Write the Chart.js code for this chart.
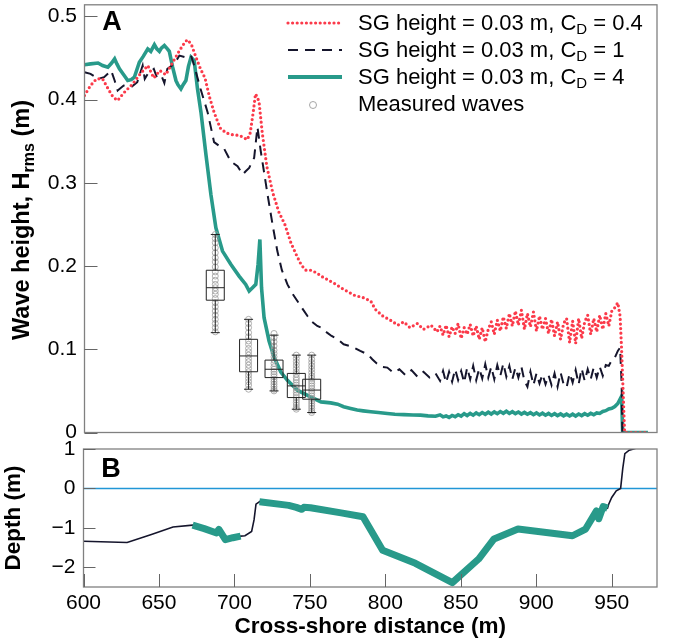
<!DOCTYPE html>
<html><head><meta charset="utf-8">
<script src="https://cdn.jsdelivr.net/npm/chart.js@4.4.1/dist/chart.umd.min.js"></script>
<style>
html,body{margin:0;padding:0;background:#fff;}
#wrap{position:relative;width:685px;height:641px;background:#fff;}
canvas{position:absolute;left:0;}
#cA{top:0;} #cB{top:440px;}
</style></head><body>
<div id="wrap"><canvas id="cA" width="685" height="445"></canvas><canvas id="cB" width="685" height="201"></canvas></div>
<script>
// ---------- DATA ----------
const xTicks = [600,650,700,750,800,850,900,950];
const yTicksA = [0,0.1,0.2,0.3,0.4,0.5];
const yTicksB = [-2,-1,0,1];

const noiseX = [836,838,840,842,844,846,848,850,852,854,856,858,860,862,864,866,868,870,872,874,876,878,880,882,884,886,888,890,892,894,896,898,900,902,904,906,908,910,912,914,916,918,920,922,924,926,928,930,932,934,936,938,940,942,944,946,948,950,952,954];

// SG height = 0.03 m, CD = 0.4 (red dotted)
const redSmoothX = [600,604,608,612,616,619,622,626,632,637,642,646,650,654,658,663,667,668.5,671,674,677,680,683,686,690,694,698,703,706,708,710,712,713.5,715,716,718,721,725,729,733,737,741,744,747,750,754,757,761,766,772,779,785,790,793,798,803,808,812,816,821,825,830,834];
const redSmoothY = [0.405,0.417,0.425,0.425,0.412,0.403,0.399,0.408,0.419,0.431,0.441,0.426,0.435,0.430,0.443,0.459,0.470,0.472,0.466,0.451,0.437,0.426,0.403,0.385,0.366,0.360,0.358,0.357,0.354,0.352,0.360,0.385,0.407,0.402,0.395,0.360,0.320,0.288,0.265,0.250,0.228,0.212,0.201,0.195,0.195,0.192,0.188,0.184,0.179,0.172,0.165,0.162,0.158,0.148,0.140,0.135,0.129,0.133,0.126,0.131,0.124,0.129,0.121];
const redNoiseY = [0.128,0.117,0.129,0.115,0.127,0.119,0.131,0.113,0.126,0.118,0.130,0.116,0.128,0.112,0.126,0.109,0.124,0.133,0.118,0.135,0.122,0.139,0.125,0.143,0.128,0.146,0.129,0.147,0.124,0.143,0.127,0.145,0.122,0.140,0.124,0.137,0.119,0.136,0.116,0.133,0.112,0.131,0.137,0.108,0.134,0.107,0.137,0.113,0.133,0.141,0.118,0.137,0.121,0.141,0.124,0.143,0.128,0.146,0.150,0.156];
const redTailX = [955.5,956.5,957.5,958.5,974];
const redTailY = [0.140,0.100,0.050,0.000,0.000];

// SG height = 0.03 m, CD = 1 (black dashed)
const blackSmoothX = [600,604,609,613,617.7,620,622,626,631,635,638.6,640,642,646,648,651,653,655,659.6,663,667,670.7,672.8,677,681.7,686,689,692.7,697,701.6,705,707,709.3,712.6,714.8,717,721.5,725,728,731,734.7,738,741.3,745,748,751,754.5,757,761,764,768,772,776,779,783,788,791,794,797,801,805,809,813,817,821,825,829,833];
const blackSmoothY = [0.433,0.431,0.425,0.427,0.435,0.423,0.411,0.417,0.415,0.421,0.441,0.425,0.431,0.437,0.427,0.429,0.420,0.437,0.443,0.453,0.451,0.453,0.441,0.413,0.385,0.349,0.345,0.341,0.326,0.320,0.310,0.314,0.318,0.330,0.367,0.338,0.286,0.248,0.218,0.195,0.178,0.167,0.158,0.148,0.140,0.133,0.128,0.126,0.120,0.116,0.112,0.106,0.104,0.102,0.098,0.094,0.088,0.083,0.079,0.078,0.072,0.076,0.069,0.075,0.067,0.073,0.066,0.071];
const blackNoiseY = [0.062,0.074,0.060,0.073,0.061,0.076,0.063,0.074,0.060,0.078,0.064,0.080,0.063,0.077,0.065,0.082,0.066,0.079,0.064,0.081,0.068,0.083,0.067,0.080,0.064,0.078,0.066,0.079,0.062,0.055,0.073,0.057,0.071,0.059,0.070,0.058,0.069,0.057,0.071,0.055,0.072,0.058,0.054,0.071,0.060,0.075,0.058,0.077,0.062,0.076,0.064,0.078,0.066,0.079,0.068,0.081,0.080,0.087,0.090,0.098];
const blackTailX = [955.5,956.5,957];
const blackTailY = [0.102,0.060,0.000];

// SG height = 0.03 m, CD = 4 (teal)
const tealSmoothX = [600,604,609,612,615.5,618,620,621.5,623.2,626,628.7,631,633.1,636.4,639,642,644,646.4,648,649.7,651,653,655,656.3,658.5,660.7,662,664,665.5,667.3,669,670.7,672.8,675,677.3,680.6,683.9,687.2,691.6,697.2,702.6,707,709.3,711.5,713.7,715.2,716.4,717.5,719.2,722.5,725.8,730.3,734.7,741.3,750,757,763.4,768,772,776.6,781,785,790,795,801,806,812,818,823,828,833];
const tealSmoothY = [0.442,0.443,0.444,0.441,0.439,0.444,0.449,0.443,0.437,0.430,0.423,0.424,0.427,0.445,0.452,0.461,0.458,0.466,0.461,0.458,0.462,0.465,0.461,0.458,0.439,0.423,0.418,0.413,0.418,0.423,0.440,0.451,0.447,0.413,0.385,0.334,0.286,0.246,0.218,0.202,0.188,0.178,0.170,0.174,0.178,0.202,0.232,0.174,0.138,0.110,0.0906,0.0727,0.0627,0.0508,0.0428,0.0368,0.0356,0.034,0.031,0.0289,0.027,0.026,0.0249,0.024,0.0229,0.022,0.0215,0.021,0.0209,0.020,0.0195];
const tealNoiseY = [0.0212,0.0188,0.0199,0.0181,0.0205,0.0190,0.0214,0.0197,0.0226,0.0204,0.0230,0.0208,0.0236,0.0214,0.0240,0.0219,0.0244,0.0222,0.0248,0.0226,0.0252,0.0231,0.0255,0.0229,0.0250,0.0226,0.0246,0.0222,0.0242,0.0219,0.0238,0.0214,0.0236,0.0211,0.0232,0.0208,0.0229,0.0205,0.0226,0.0203,0.0223,0.0200,0.0221,0.0199,0.0220,0.0198,0.0222,0.0203,0.0226,0.0207,0.0230,0.0214,0.0236,0.0229,0.0252,0.0262,0.0283,0.0291,0.0312,0.0349];
const tealTailX = [956.5,957.2,958,974];
const tealTailY = [0.0436,0.001,0,0];

// Measured waves: box statistics
const boxX   = [686.8, 708.9, 725.8, 740.6, 750.8];
const boxMin = [0.120, 0.052, 0.050, 0.028, 0.024];
const boxQ1  = [0.159, 0.073, 0.066, 0.042, 0.040];
const boxMed = [0.174, 0.092, 0.076, 0.056, 0.051];
const boxQ3  = [0.195, 0.112, 0.087, 0.071, 0.064];
const boxMax = [0.238, 0.136, 0.117, 0.093, 0.093];
// individual measured values per station
const meas1 = [0.238,0.233,0.228,0.222,0.216,0.210,0.205,0.199,0.193,0.188,0.183,0.178,0.174,0.170,0.166,0.161,0.156,0.151,0.146,0.141,0.136,0.131,0.126,0.121];
const meas2 = [0.136,0.131,0.126,0.120,0.115,0.110,0.106,0.101,0.097,0.093,0.089,0.085,0.081,0.077,0.073,0.069,0.065,0.061,0.057,0.052];
const meas3 = [0.119,0.114,0.109,0.104,0.099,0.095,0.091,0.087,0.083,0.079,0.076,0.073,0.070,0.067,0.064,0.061,0.058,0.055,0.052,0.050];
const meas4 = [0.093,0.089,0.085,0.081,0.077,0.073,0.070,0.066,0.063,0.060,0.057,0.054,0.051,0.048,0.045,0.042,0.039,0.036,0.033,0.030,0.028];
const meas5 = [0.093,0.088,0.084,0.080,0.076,0.072,0.068,0.065,0.062,0.059,0.056,0.053,0.050,0.047,0.044,0.041,0.038,0.035,0.032,0.029,0.026,0.024];

// Panel B: bed profile and seagrass
const bedX = [600,628.9,645,659.3,672.3,680,688.2,689.7,694,699,704.1,707,711.4,713,714.3,717.2,736,744.7,746,750.4,770.7,785.2,798.2,819.9,844.4,861.8,872,887.9,924,932.7,939.9,941.4,944.3,947.2,948,950,953,955.9,957.3,958.7,961.6,964.5,966];
const bedY = [-1.34,-1.37,-1.17,-0.98,-0.93,-1.02,-1.13,-1.04,-1.30,-1.25,-1.21,-1.20,-1.09,-0.80,-0.40,-0.32,-0.43,-0.53,-0.48,-0.49,-0.62,-0.72,-1.57,-1.90,-2.39,-1.79,-1.28,-1.03,-1.20,-1.03,-0.57,-0.77,-0.46,-0.50,-0.40,-0.23,-0.06,0,0.50,0.88,0.97,1.0,1.02];
const sgX = [672.3,680,688.2,689.7,694,699,704.1,710,716.6,736,741,744.7,746,750.4,770.7,785.2,798.2,819.9,844.4,861.8,872,887.9,924,932.7,939.9,941.4,944.3,947.2];
const sgY = [-0.93,-1.02,-1.13,-1.04,-1.30,-1.25,-1.21,null,-0.34,-0.43,-0.48,-0.53,-0.48,-0.49,-0.62,-0.72,-1.57,-1.90,-2.39,-1.79,-1.28,-1.03,-1.20,-1.03,-0.57,-0.77,-0.46,-0.50];
const zeroX = [600,980];
const zeroY = [0,0];

// ---------- STYLE ----------
const FONT = '"Liberation Sans", Arial, Helvetica, sans-serif';
const RED = '#fb3a4a', BLACK = '#15152c', TEAL = '#289a8a', BLUE = '#2196d6', FRAME = '#808080', GRAY = '#9c9c9c';
const DOT = [0, 4.6], DASH = [10, 7];

const pts = (xs, ys) => xs.map((x, i) => ({x: x, y: ys[i]}));
const redPts = pts(redSmoothX.concat(noiseX, redTailX), redSmoothY.concat(redNoiseY, redTailY));
const blackPts = pts(blackSmoothX.concat(noiseX, blackTailX), blackSmoothY.concat(blackNoiseY, blackTailY));
const tealPts = pts(tealSmoothX.concat(noiseX, tealTailX), tealSmoothY.concat(tealNoiseY, tealTailY));
const measPts = [];
[meas1, meas2, meas3, meas4, meas5].forEach((arr, i) => arr.forEach(v => measPts.push({x: boxX[i], y: v})));

function drawParts(ctx, x, y, parts, size, weight, align) {
  const main = (weight || '') + ' ' + size + 'px ' + FONT;
  const sub = (weight || '') + ' ' + Math.round(size * 0.68) + 'px ' + FONT;
  ctx.font = main; const w0 = ctx.measureText(parts[0]).width;
  ctx.font = sub; const w1 = ctx.measureText(parts[1]).width;
  ctx.font = main; const w2 = ctx.measureText(parts[2]).width;
  let sx = align === 'center' ? x - (w0 + w1 + w2) / 2 : x;
  ctx.textAlign = 'left'; ctx.textBaseline = 'middle';
  ctx.font = main; ctx.fillText(parts[0], sx, y);
  ctx.font = sub; ctx.fillText(parts[1], sx + w0, y + size * 0.28);
  ctx.font = main; ctx.fillText(parts[2], sx + w0 + w1, y);
}

const panelA = {
  id: 'panelA',
  afterDatasetsDraw(chart) {
    const {ctx, chartArea: a, scales: {x, y}} = chart;
    ctx.save();
    ctx.strokeStyle = '#222'; ctx.lineWidth = 1; ctx.setLineDash([]);
    boxX.forEach((bx, i) => {
      const px = x.getPixelForValue(bx);
      const pMin = y.getPixelForValue(boxMin[i]), pQ1 = y.getPixelForValue(boxQ1[i]);
      const pMed = y.getPixelForValue(boxMed[i]), pQ3 = y.getPixelForValue(boxQ3[i]);
      const pMax = y.getPixelForValue(boxMax[i]);
      ctx.beginPath();
      ctx.moveTo(px, pMax); ctx.lineTo(px, pQ3);
      ctx.moveTo(px, pQ1); ctx.lineTo(px, pMin);
      ctx.moveTo(px - 4.5, pMax); ctx.lineTo(px + 4.5, pMax);
      ctx.moveTo(px - 4.5, pMin); ctx.lineTo(px + 4.5, pMin);
      ctx.moveTo(px - 9, pMed); ctx.lineTo(px + 9, pMed);
      ctx.rect(px - 9, pQ3, 18, pQ1 - pQ3);
      ctx.stroke();
    });
    ctx.strokeStyle = FRAME; ctx.lineWidth = 1.3;
    ctx.strokeRect(a.left, a.top, a.right - a.left, a.bottom - a.top);
    ctx.strokeStyle = '#666'; ctx.lineWidth = 1;
    ctx.beginPath();
    yTicksA.forEach(v => { const py = Math.round(y.getPixelForValue(v)) + 0.5; ctx.moveTo(a.left, py); ctx.lineTo(a.left + 13, py); });
    ctx.stroke();
    ctx.fillStyle = '#000'; ctx.font = 'bold 27px ' + FONT; ctx.textAlign = 'center'; ctx.textBaseline = 'middle';
    ctx.fillText('A', 112, 23);
    const lx0 = 288, lx1 = 342, tx = 358;
    const rows = [24, 51, 78, 105];
    ctx.lineWidth = 3.2; ctx.lineCap = 'round'; ctx.setLineDash(DOT); ctx.strokeStyle = RED;
    ctx.beginPath(); ctx.moveTo(lx0, rows[0] - 1); ctx.lineTo(lx1, rows[0] - 1); ctx.stroke();
    ctx.lineWidth = 2; ctx.lineCap = 'butt'; ctx.setLineDash(DASH); ctx.strokeStyle = BLACK;
    ctx.beginPath(); ctx.moveTo(lx0, rows[1] - 1); ctx.lineTo(lx1, rows[1] - 1); ctx.stroke();
    ctx.lineWidth = 4; ctx.setLineDash([]); ctx.strokeStyle = TEAL;
    ctx.beginPath(); ctx.moveTo(lx0, rows[2] - 1); ctx.lineTo(lx1, rows[2] - 1); ctx.stroke();
    ctx.lineWidth = 0.9; ctx.strokeStyle = GRAY;
    ctx.beginPath(); ctx.arc(313, rows[3], 3.5, 0, Math.PI * 2); ctx.stroke();
    ctx.fillStyle = '#000';
    drawParts(ctx, tx, rows[0], ['SG height = 0.03 m, C', 'D', ' = 0.4'], 22, '', 'left');
    drawParts(ctx, tx, rows[1], ['SG height = 0.03 m, C', 'D', ' = 1'], 22, '', 'left');
    drawParts(ctx, tx, rows[2], ['SG height = 0.03 m, C', 'D', ' = 4'], 22, '', 'left');
    ctx.font = '22px ' + FONT; ctx.textAlign = 'left'; ctx.textBaseline = 'middle';
    ctx.fillText('Measured waves', tx, rows[3]);
    ctx.translate(23, 220); ctx.rotate(-Math.PI / 2);
    drawParts(ctx, 0, 0, ['Wave height, H', 'rms', ' (m)'], 23.5, 'bold', 'center');
    ctx.restore();
  }
};

const panelB = {
  id: 'panelB',
  afterDatasetsDraw(chart) {
    const {ctx, chartArea: a, scales: {x, y}} = chart;
    ctx.save();
    ctx.strokeStyle = FRAME; ctx.lineWidth = 1.3;
    ctx.strokeRect(a.left, a.top, a.right - a.left, a.bottom - a.top);
    ctx.strokeStyle = '#666'; ctx.lineWidth = 1;
    ctx.beginPath();
    xTicks.forEach(v => { const px = Math.round(x.getPixelForValue(v)) + 0.5; ctx.moveTo(px, a.bottom); ctx.lineTo(px, a.bottom - 13); });
    yTicksB.forEach(v => { const py = Math.round(y.getPixelForValue(v)) + 0.5; ctx.moveTo(a.left, py); ctx.lineTo(a.left + 12, py); });
    ctx.stroke();
    ctx.fillStyle = '#000'; ctx.font = 'bold 27px ' + FONT; ctx.textAlign = 'center'; ctx.textBaseline = 'middle';
    ctx.fillText('B', 111, 30);
    ctx.restore();
  }
};

const tickFont = {family: FONT, size: 21};
const titleFont = {family: FONT, size: 22.5, weight: 'bold'};

new Chart(document.getElementById('cA'), {
  type: 'line',
  data: {datasets: [
    {data: measPts, type: 'scatter', showLine: false, pointRadius: 3, pointBorderWidth: 0.8,
     pointBorderColor: GRAY, pointBackgroundColor: 'rgba(0,0,0,0)'},
    {data: redPts, borderColor: RED, borderWidth: 3.2, borderDash: DOT, borderCapStyle: 'round', pointRadius: 0, fill: false},
    {data: blackPts, borderColor: BLACK, borderWidth: 2, borderDash: DASH, pointRadius: 0, fill: false},
    {data: tealPts, borderColor: TEAL, borderWidth: 3.6, pointRadius: 0, fill: false}
  ]},
  options: {
    responsive: false, animation: false, devicePixelRatio: 1,
    layout: {padding: {left: 0, top: 2, right: 28, bottom: 12.5}},
    plugins: {legend: {display: false}, tooltip: {enabled: false}},
    elements: {line: {tension: 0}},
    scales: {
      x: {type: 'linear', min: 600, max: 980, display: false},
      y: {type: 'linear', min: 0, max: 0.514,
          afterBuildTicks: s => { s.ticks = yTicksA.map(v => ({value: v})); },
          afterFit: s => { s.width = 84.5; s.paddingTop = 0; s.paddingBottom = 0; },
          grid: {display: false, drawTicks: false}, border: {display: false},
          ticks: {padding: 7.5, font: tickFont, color: '#000', callback: v => v === 0 ? '0' : v.toFixed(1)}}
    }
  },
  plugins: [panelA]
});

new Chart(document.getElementById('cB'), {
  type: 'line',
  data: {datasets: [
    {data: pts(sgX, sgY), borderColor: TEAL, borderWidth: 7, pointRadius: 0, spanGaps: false, fill: false, borderJoinStyle: 'round'},
    {data: pts(bedX, bedY), borderColor: BLACK, borderWidth: 1.6, pointRadius: 0, fill: false},
    {data: pts(zeroX, zeroY), borderColor: BLUE, borderWidth: 1.5, pointRadius: 0, fill: false}
  ]},
  options: {
    responsive: false, animation: false, devicePixelRatio: 1,
    layout: {padding: {left: 0, top: 9, right: 28, bottom: 0}},
    plugins: {legend: {display: false}, tooltip: {enabled: false}},
    elements: {line: {tension: 0}},
    scales: {
      x: {type: 'linear', min: 600, max: 980,
          afterBuildTicks: s => { s.ticks = xTicks.map(v => ({value: v})); },
          afterFit: s => { s.height = 54; s.paddingLeft = 0; s.paddingRight = 0; },
          grid: {display: false, drawTicks: false}, border: {display: false},
          ticks: {padding: 3.5, font: tickFont, color: '#000', maxRotation: 0, autoSkip: false},
          title: {display: true, text: 'Cross-shore distance (m)', font: titleFont, color: '#000', padding: {top: 0, bottom: 0.5}}},
      y: {type: 'linear', min: -2.5, max: 1,
          afterBuildTicks: s => { s.ticks = yTicksB.map(v => ({value: v})); },
          afterFit: s => { s.width = 83.5; s.paddingTop = 0; s.paddingBottom = 0; },
          grid: {display: false, drawTicks: false}, border: {display: false},
          ticks: {padding: 8, font: tickFont, color: '#000', callback: v => v < 0 ? '\u2212' + Math.abs(v) : String(v)},
          title: {display: true, text: 'Depth (m)', font: titleFont, color: '#000', padding: {top: 0, bottom: 0}}}
    }
  },
  plugins: [panelB]
});
</script>
</body></html>
